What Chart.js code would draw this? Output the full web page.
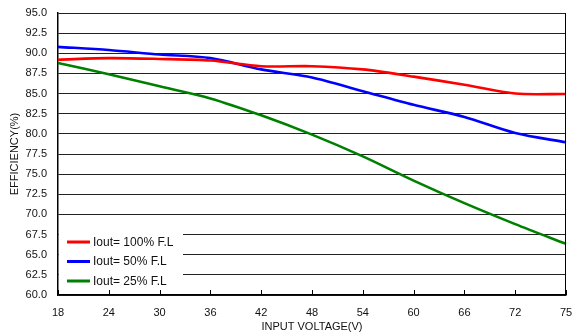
<!DOCTYPE html>
<html lang="en">
<head>
<meta charset="UTF-8">
<title>Efficiency vs Input Voltage</title>
<script src="https://cdn.jsdelivr.net/npm/chart.js"></script>
<style>
    html, body { margin: 0; padding: 0; background: #fff; }
    #wrap { width: 574px; height: 336px; }
</style>
</head>
<body>
<div id="wrap"><canvas id="effChart" width="574" height="336"></canvas></div>

<script>
// input voltage categories (V)
const voltages = ['18', '24', '30', '36', '42', '48', '54', '60', '66', '72', '75'];

// efficiency (%)
const eff100 = [89.2, 89.4, 89.3, 89.1, 88.4, 88.4, 88.0, 87.1, 86.1, 85.0, 84.95];
const eff50  = [90.8, 90.4, 89.85, 89.4, 88.0, 87.0, 85.3, 83.6, 82.1, 80.1, 78.95];
const eff25  = [88.8, 87.4, 85.9, 84.4, 82.3, 79.9, 77.2, 74.2, 71.4, 68.8, 66.35];

const seriesLabels = ['Iout= 100% F.L', 'Iout= 50% F.L', 'Iout= 25% F.L'];
const seriesColors = ['#ff0000', '#0000ff', '#008000'];

const FONT = 'Arial, "Liberation Sans", sans-serif';

// legend inside the plot, bottom-left, on a white box
const insideLegend = {
    id: 'insideLegend',
    afterDraw(chart) {
        const ctx = chart.ctx;
        const area = chart.chartArea;
        const y = chart.scales.y;
        ctx.save();
        ctx.fillStyle = '#fff';
        ctx.fillRect(area.left + 1, y.getPixelForValue(68.6), 124, y.getPixelForValue(60.2) - y.getPixelForValue(68.6));

        ctx.font = '12px ' + FONT;
        ctx.textBaseline = 'middle';
        chart.data.datasets.forEach((ds, i) => {
            const yy = 242 + i * 19.5;
            ctx.strokeStyle = ds.borderColor;
            ctx.lineWidth = 3;
            ctx.beginPath();
            ctx.moveTo(area.left + 9, yy);
            ctx.lineTo(area.left + 32, yy);
            ctx.stroke();
            ctx.fillStyle = '#111';
            ctx.fillText(ds.label, area.left + 35, yy + 0.5);
        });

        // right frame line and inward ticks on x axis
        ctx.strokeStyle = '#000';
        ctx.lineWidth = 1;
        ctx.beginPath();
        ctx.moveTo(Math.round(area.right) - 0.5, area.top);
        ctx.lineTo(Math.round(area.right) - 0.5, area.bottom);
        const xs = chart.scales.x;
        xs.ticks.forEach((t, i) => {
            const px = Math.round(xs.getPixelForTick(i)) + 0.5;
            ctx.moveTo(px, area.bottom);
            ctx.lineTo(px, area.bottom - 5);
        });
        ctx.stroke();
        ctx.restore();
    }
};

new Chart(document.getElementById('effChart').getContext('2d'), {
    type: 'line',
    data: {
        labels: voltages,
        datasets: [eff100, eff50, eff25].map((d, i) => ({
            label: seriesLabels[i],
            data: d,
            borderColor: seriesColors[i],
            backgroundColor: seriesColors[i],
            borderWidth: 2.6,
            pointRadius: 0,
            tension: 0.3,
            fill: false
        }))
    },
    options: {
        responsive: false,
        animation: false,
        layout: { padding: { top: 13, right: 8, left: 8, bottom: 0 } },
        plugins: {
            legend: { display: false },
            tooltip: { enabled: false }
        },
        scales: {
            x: {
                type: 'category',
                offset: false,
                grid: { display: false, drawTicks: false },
                border: { display: true, color: '#000', width: 1.5 },
                ticks: {
                    padding: 11,
                    maxRotation: 0,
                    autoSkip: false,
                    color: '#111',
                    font: { family: FONT, size: 11 }
                },
                title: {
                    display: true,
                    text: 'INPUT VOLTAGE(V)',
                    color: '#111',
                    padding: { top: 0, bottom: 2 },
                    font: { family: FONT, size: 11 }
                },
                afterFit(scale) {
                    scale.height = 41;
                    scale.paddingLeft = 0;
                    scale.paddingRight = 0;
                }
            },
            y: {
                min: 60,
                max: 95,
                grid: { color: '#222', lineWidth: 1, drawTicks: false },
                border: { display: true, color: '#000', width: 1.5 },
                ticks: {
                    stepSize: 2.5,
                    padding: 11,
                    color: '#111',
                    font: { family: FONT, size: 11 },
                    callback: v => v.toFixed(1)
                },
                title: {
                    display: true,
                    text: 'EFFICIENCY(%)',
                    color: '#111',
                    padding: { top: 0, bottom: 0 },
                    font: { family: FONT, size: 11 }
                },
                afterFit(scale) {
                    scale.width = 50;
                    scale.paddingTop = 0;
                    scale.paddingBottom = 0;
                }
            }
        }
    },
    plugins: [insideLegend]
});
</script>
</body>
</html>
